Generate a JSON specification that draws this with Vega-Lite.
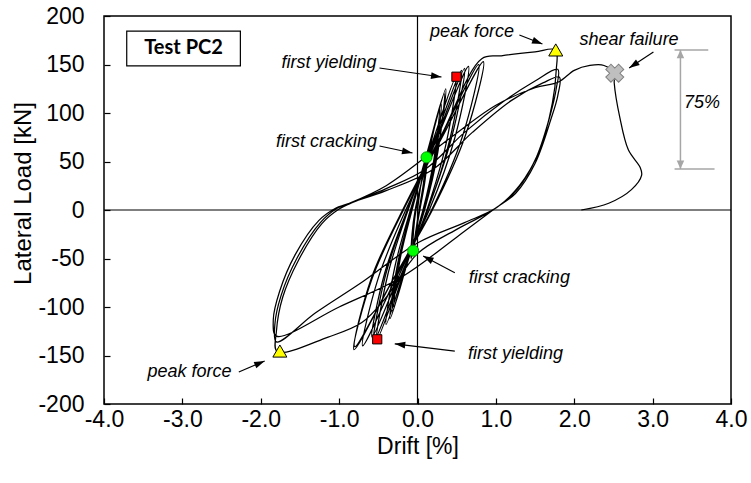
{
  "$schema": "https://vega.github.io/schema/vega-lite/v6.json",
  "width": 627,
  "height": 388,
  "autosize": "none",
  "padding": {"left": 104, "top": 16, "right": 20, "bottom": 79},
  "background": "white",
  "config": {"view": {"stroke": "black", "strokeWidth": 1.5}, "font": "Liberation Sans"},
  "datasets": {
    "zero": [
      {"d": 0, "L": -200, "d2": 0, "L2": 200},
      {"d": -4, "L": 0, "d2": 4, "L2": 0}
    ],
    "curve": [
      {"i": 1, "d": 0, "L": 0}, {"i": 2, "d": 0.045, "L": 27}, {"i": 3, "d": 0.11, "L": 54}, {"i": 4, "d": 0.075, "L": 27},
      {"i": 5, "d": 0.02, "L": 0}, {"i": 6, "d": -0.02, "L": -21}, {"i": 7, "d": -0.06, "L": -42}, {"i": 8, "d": -0.05, "L": -21},
      {"i": 9, "d": -0.02, "L": 0}, {"i": 10, "d": 0.055, "L": 30}, {"i": 11, "d": 0.13, "L": 60}, {"i": 12, "d": 0.095, "L": 30},
      {"i": 13, "d": 0.03, "L": 0}, {"i": 14, "d": -0.025, "L": -25}, {"i": 15, "d": -0.08, "L": -50}, {"i": 16, "d": -0.07, "L": -25},
      {"i": 17, "d": -0.03, "L": 0}, {"i": 18, "d": 0.125, "L": 52.5}, {"i": 19, "d": 0.28, "L": 105}, {"i": 20, "d": 0.21, "L": 52.5},
      {"i": 21, "d": 0.07, "L": 0}, {"i": 22, "d": -0.115, "L": -50}, {"i": 23, "d": -0.3, "L": -100}, {"i": 24, "d": -0.22, "L": -50},
      {"i": 25, "d": -0.07, "L": 0}, {"i": 26, "d": 0.115, "L": 55}, {"i": 27, "d": 0.3, "L": 110}, {"i": 28, "d": 0.23, "L": 55},
      {"i": 29, "d": 0.08, "L": 0}, {"i": 30, "d": -0.12, "L": -52}, {"i": 31, "d": -0.32, "L": -104}, {"i": 32, "d": -0.24, "L": -52},
      {"i": 33, "d": -0.08, "L": 0}, {"i": 34, "d": 0.14, "L": 62.5}, {"i": 35, "d": 0.36, "L": 125}, {"i": 36, "d": 0.26, "L": 62.5},
      {"i": 37, "d": 0.08, "L": 0}, {"i": 38, "d": -0.135, "L": -56}, {"i": 39, "d": -0.35, "L": -112}, {"i": 40, "d": -0.255, "L": -56},
      {"i": 41, "d": -0.08, "L": 0}, {"i": 42, "d": 0.125, "L": 60}, {"i": 43, "d": 0.34, "L": 120}, {"i": 44, "d": 0.26, "L": 60},
      {"i": 45, "d": 0.09, "L": 0}, {"i": 46, "d": -0.155, "L": -59}, {"i": 47, "d": -0.4, "L": -118}, {"i": 48, "d": -0.29, "L": -59},
      {"i": 49, "d": -0.09, "L": 0}, {"i": 50, "d": 0.185, "L": 68.5}, {"i": 51, "d": 0.49, "L": 137}, {"i": 52, "d": 0.365, "L": 68.5},
      {"i": 53, "d": 0.12, "L": 0}, {"i": 54, "d": -0.2, "L": -67}, {"i": 55, "d": -0.52, "L": -134}, {"i": 56, "d": -0.38, "L": -67},
      {"i": 57, "d": -0.12, "L": 0}, {"i": 58, "d": 0.215, "L": 72}, {"i": 59, "d": 0.56, "L": 144}, {"i": 60, "d": 0.41, "L": 72},
      {"i": 61, "d": 0.13, "L": 0}, {"i": 62, "d": -0.225, "L": -65.5}, {"i": 63, "d": -0.58, "L": -131}, {"i": 64, "d": -0.42, "L": -65.5},
      {"i": 65, "d": -0.13, "L": 0}, {"i": 66, "d": 0.235, "L": 73}, {"i": 67, "d": 0.6, "L": 146}, {"i": 68, "d": 0.43, "L": 73},
      {"i": 69, "d": 0.13, "L": 0}, {"i": 70, "d": -0.215, "L": -68}, {"i": 71, "d": -0.56, "L": -136}, {"i": 72, "d": -0.41, "L": -68},
      {"i": 73, "d": -0.13, "L": 0}, {"i": 74, "d": 0.25, "L": 74}, {"i": 75, "d": 0.65, "L": 148}, {"i": 76, "d": 0.475, "L": 74},
      {"i": 77, "d": 0.15, "L": 0}, {"i": 78, "d": -0.275, "L": -70}, {"i": 79, "d": -0.7, "L": -140}, {"i": 80, "d": -0.5, "L": -70},
      {"i": 81, "d": -0.15, "L": 0}, {"i": 82, "d": 0.3, "L": 75}, {"i": 83, "d": 0.78, "L": 150}, {"i": 84, "d": 0.57, "L": 75},
      {"i": 85, "d": 0.18, "L": 0}, {"i": 86, "d": -0.315, "L": -72}, {"i": 87, "d": -0.81, "L": -144}, {"i": 88, "d": -0.585, "L": -72},
      {"i": 89, "d": -0.18, "L": 0}, {"i": 90, "d": 0.325, "L": 76.5}, {"i": 91, "d": 0.84, "L": 153}, {"i": 92, "d": 0.61, "L": 76.5},
      {"i": 93, "d": 0.19, "L": 0}, {"i": 94, "d": -0.305, "L": -70.5}, {"i": 95, "d": -0.8, "L": -141}, {"i": 96, "d": -0.59, "L": -70.5},
      {"i": 97, "d": -0.19, "L": 0}, {"i": 98, "d": 0.31, "L": 78}, {"i": 99, "d": 0.82, "L": 156}, {"i": 100, "d": 1.07, "L": 159},
      {"i": 101, "d": 1.5, "L": 163}, {"i": 102, "d": 1.76, "L": 165}, {"i": 103, "d": 1.77, "L": 144}, {"i": 104, "d": 1.72, "L": 110},
      {"i": 105, "d": 1.55, "L": 60}, {"i": 106, "d": 1.3, "L": 25}, {"i": 107, "d": 1.02, "L": 3}, {"i": 108, "d": 0.5, "L": -20},
      {"i": 109, "d": 0, "L": -45}, {"i": 110, "d": -0.4, "L": -90}, {"i": 111, "d": -0.71, "L": -116}, {"i": 112, "d": -1.14, "L": -131},
      {"i": 113, "d": -1.79, "L": -146}, {"i": 114, "d": -1.8, "L": -125}, {"i": 115, "d": -1.72, "L": -90}, {"i": 116, "d": -1.52, "L": -52},
      {"i": 117, "d": -1.22, "L": -14}, {"i": 118, "d": -1.0, "L": 1}, {"i": 119, "d": -0.85, "L": 7}, {"i": 120, "d": -0.4, "L": 22},
      {"i": 121, "d": 0.1, "L": 42}, {"i": 122, "d": 0.6, "L": 80}, {"i": 123, "d": 1.1, "L": 112}, {"i": 124, "d": 1.5, "L": 133},
      {"i": 125, "d": 1.79, "L": 145}, {"i": 126, "d": 1.77, "L": 125}, {"i": 127, "d": 1.7, "L": 100}, {"i": 128, "d": 1.52, "L": 55},
      {"i": 129, "d": 1.28, "L": 22}, {"i": 130, "d": 1.0, "L": 2}, {"i": 131, "d": 0.6, "L": -13}, {"i": 132, "d": 0, "L": -34},
      {"i": 133, "d": -0.7, "L": -74}, {"i": 134, "d": -1.3, "L": -106}, {"i": 135, "d": -1.8, "L": -136}, {"i": 136, "d": -1.82, "L": -118},
      {"i": 137, "d": -1.74, "L": -88}, {"i": 138, "d": -1.54, "L": -50}, {"i": 139, "d": -1.24, "L": -13}, {"i": 140, "d": -1.02, "L": 2},
      {"i": 141, "d": -0.87, "L": 7}, {"i": 142, "d": -0.4, "L": 20}, {"i": 143, "d": 0.2, "L": 42}, {"i": 144, "d": 0.7, "L": 80},
      {"i": 145, "d": 1.2, "L": 113}, {"i": 146, "d": 1.6, "L": 131}, {"i": 147, "d": 1.81, "L": 137}, {"i": 148, "d": 1.79, "L": 118},
      {"i": 149, "d": 1.7, "L": 93}, {"i": 150, "d": 1.5, "L": 48}, {"i": 151, "d": 1.25, "L": 17}, {"i": 152, "d": 0.98, "L": 1},
      {"i": 153, "d": 0.5, "L": -28}, {"i": 154, "d": -0.2, "L": -69}, {"i": 155, "d": -1.0, "L": -100}, {"i": 156, "d": -1.8, "L": -130},
      {"i": 157, "d": -1.84, "L": -113}, {"i": 158, "d": -1.76, "L": -84}, {"i": 159, "d": -1.56, "L": -46}, {"i": 160, "d": -1.26, "L": -11},
      {"i": 161, "d": -1.04, "L": 2}, {"i": 162, "d": -0.9, "L": 6}, {"i": 163, "d": -0.4, "L": 25}, {"i": 164, "d": 0.43, "L": 75},
      {"i": 165, "d": 1.0, "L": 108}, {"i": 166, "d": 1.5, "L": 126}, {"i": 167, "d": 1.8, "L": 132}, {"i": 168, "d": 2.0, "L": 144},
      {"i": 169, "d": 2.2, "L": 149}, {"i": 170, "d": 2.38, "L": 149}, {"i": 171, "d": 2.51, "L": 141}, {"i": 172, "d": 2.51, "L": 131},
      {"i": 173, "d": 2.58, "L": 96}, {"i": 174, "d": 2.69, "L": 62}, {"i": 175, "d": 2.84, "L": 44}, {"i": 176, "d": 2.86, "L": 36},
      {"i": 177, "d": 2.73, "L": 21}, {"i": 178, "d": 2.44, "L": 7}, {"i": 179, "d": 2.09, "L": 0}
    ],
    "markers": [
      {"t": "peak", "d": 1.764, "L": 165},
      {"t": "peak", "d": -1.756, "L": -145.4},
      {"t": "yield", "d": 0.497, "L": 137.4},
      {"t": "yield", "d": -0.514, "L": -133.3},
      {"t": "crack", "d": 0.115, "L": 54.3},
      {"t": "crack", "d": -0.055, "L": -41.9},
      {"t": "shear", "d": 2.517, "L": 141}
    ],
    "arrows": [
      {"d": 1.594, "L": 171.1, "d2": 1.30, "L2": 180.4},
      {"d": 2.70, "L": 146.4, "d2": 3.01, "L2": 162.9},
      {"d": 0.306, "L": 137.1, "d2": -0.485, "L2": 146.4},
      {"d": -0.064, "L": 58.8, "d2": -0.485, "L2": 66},
      {"d": 0.072, "L": -47.4, "d2": 0.476, "L2": -64.6},
      {"d": -0.29, "L": -138, "d2": 0.476, "L2": -145.4},
      {"d": -1.95, "L": -155.7, "d2": -2.28, "L2": -167}
    ],
    "gray": [
      {"d": 3.355, "L": 165, "d2": 3.355, "L2": 100, "head": true},
      {"d": 3.355, "L": 42.3, "d2": 3.355, "L2": 100, "head": true},
      {"d": 3.28, "L": 165, "d2": 3.71, "L2": 165, "head": false},
      {"d": 3.28, "L": 42.3, "d2": 3.79, "L2": 42.3, "head": false}
    ],
    "box": [{"d": -3.71, "L": 184.5, "d2": -2.26, "L2": 148.5}],
    "labels": [
      {"d": 0.695, "L": 183.5, "txt": "peak force"},
      {"d": 2.70, "L": 175, "txt": "shear failure"},
      {"d": -1.13, "L": 151.5, "txt": "first yielding"},
      {"d": -1.16, "L": 70, "txt": "first cracking"},
      {"d": 1.30, "L": -70, "txt": "first cracking"},
      {"d": 1.25, "L": -148.5, "txt": "first yielding"},
      {"d": -2.91, "L": -167, "txt": "peak force"},
      {"d": 3.63, "L": 110, "txt": "75%"}
    ],
    "title": [{"d": -2.985, "L": 166.5, "txt": "Test PC2"}]
  },
  "encoding": {
    "x": {
      "field": "d", "type": "quantitative",
      "scale": {"domain": [-4, 4], "nice": false, "zero": false},
      "axis": {
        "values": [-4, -3, -2, -1, 0, 1, 2, 3, 4],
        "labelExpr": "(datum.value < 0 ? '-' : '') + format(abs(datum.value), '.1f')",
        "title": "Drift [%]", "grid": false, "domain": false,
        "tickSize": -6, "tickColor": "black", "tickWidth": 1.2,
        "labelPadding": 10, "labelFont": "Liberation Sans", "labelFontSize": 23, "labelColor": "black",
        "labelFlush": false, "labelOverlap": false,
        "titleFont": "Liberation Sans", "titleFontSize": 23, "titleFontWeight": "normal", "titleColor": "black",
        "titleY": 42, "titleBaseline": "middle"
      }
    },
    "y": {
      "field": "L", "type": "quantitative",
      "scale": {"domain": [-200, 200], "nice": false, "zero": false},
      "axis": {
        "values": [-200, -150, -100, -50, 0, 50, 100, 150, 200],
        "labelExpr": "(datum.value < 0 ? '-' : '') + abs(datum.value)",
        "title": "Lateral Load [kN]", "grid": false, "domain": false,
        "tickSize": -6, "tickColor": "black", "tickWidth": 1.2,
        "labelPadding": 26, "labelFont": "Liberation Sans", "labelFontSize": 23, "labelColor": "black",
        "labelFlush": false, "labelOverlap": false,
        "titleFont": "Liberation Sans", "titleFontSize": 24, "titleFontWeight": "normal", "titleColor": "black",
        "titleX": -81, "titleY": 177, "titleBaseline": "middle"
      }
    }
  },
  "layer": [
    {
      "data": {"name": "zero"},
      "mark": {"type": "rule", "stroke": "black", "strokeWidth": 1.2},
      "encoding": {"x2": {"field": "d2"}, "y2": {"field": "L2"}}
    },
    {
      "data": {"name": "curve"},
      "mark": {"type": "line", "interpolate": "catmull-rom", "stroke": "black", "strokeWidth": 1.25},
      "encoding": {"order": {"field": "i", "type": "quantitative"}}
    },
    {
      "data": {"name": "gray"},
      "mark": {"type": "rule", "stroke": "#A6A6A6", "strokeWidth": 1.5},
      "encoding": {"x2": {"field": "d2"}, "y2": {"field": "L2"}}
    },
    {
      "data": {"name": "gray"},
      "transform": [
        {"filter": "datum.head"},
        {"calculate": "atan2((datum.d - datum.d2) * 78.375, (datum.L - datum.L2) * 0.97) * 180 / PI", "as": "ang"}
      ],
      "mark": {"type": "point", "shape": "M0,0L-0.9,2L0.9,2Z", "filled": true, "fill": "#A6A6A6", "opacity": 1, "size": 70, "strokeWidth": 0},
      "encoding": {"angle": {"field": "ang", "type": "quantitative", "scale": null}}
    },
    {
      "data": {"name": "arrows"},
      "mark": {"type": "rule", "stroke": "black", "strokeWidth": 1.2},
      "encoding": {"x2": {"field": "d2"}, "y2": {"field": "L2"}}
    },
    {
      "data": {"name": "arrows"},
      "transform": [
        {"calculate": "atan2((datum.d - datum.d2) * 78.375, (datum.L - datum.L2) * 0.97) * 180 / PI", "as": "ang"}
      ],
      "mark": {"type": "point", "shape": "M0,0L-0.65,2L0.65,2Z", "filled": true, "fill": "black", "opacity": 1, "size": 110, "strokeWidth": 0},
      "encoding": {"angle": {"field": "ang", "type": "quantitative", "scale": null}}
    },
    {
      "data": {"name": "box"},
      "mark": {"type": "rect", "fill": "white", "stroke": "black", "strokeWidth": 1.2},
      "encoding": {"x2": {"field": "d2"}, "y2": {"field": "L2"}}
    },
    {
      "data": {"name": "title"},
      "mark": {"type": "text", "font": "Lato", "fontWeight": "bold", "fontSize": 20, "fill": "black", "align": "center", "baseline": "middle"},
      "encoding": {"text": {"field": "txt"}}
    },
    {
      "data": {"name": "labels"},
      "mark": {"type": "text", "font": "Liberation Sans", "fontStyle": "italic", "fontSize": 18, "fill": "black", "align": "center", "baseline": "middle"},
      "encoding": {"text": {"field": "txt"}}
    },
    {
      "data": {"name": "markers"},
      "transform": [{"filter": "datum.t == 'peak'"}],
      "mark": {"type": "point", "shape": "triangle-up", "filled": true, "fill": "#FFFF00", "stroke": "black", "strokeWidth": 1, "opacity": 1, "size": 196}
    },
    {
      "data": {"name": "markers"},
      "transform": [{"filter": "datum.t == 'yield'"}],
      "mark": {"type": "point", "shape": "square", "filled": true, "fill": "#FF0000", "stroke": "black", "strokeWidth": 1, "opacity": 1, "size": 85}
    },
    {
      "data": {"name": "markers"},
      "transform": [{"filter": "datum.t == 'crack'"}],
      "mark": {"type": "point", "shape": "circle", "filled": true, "fill": "#00FF00", "stroke": "#009900", "strokeWidth": 1, "opacity": 1, "size": 121}
    },
    {
      "data": {"name": "markers"},
      "transform": [{"filter": "datum.t == 'shear'"}],
      "mark": {"type": "point", "shape": "cross", "angle": 45, "filled": true, "fill": "#BFBFBF", "stroke": "#7F7F7F", "strokeWidth": 1, "opacity": 1, "size": 330}
    }
  ]
}
